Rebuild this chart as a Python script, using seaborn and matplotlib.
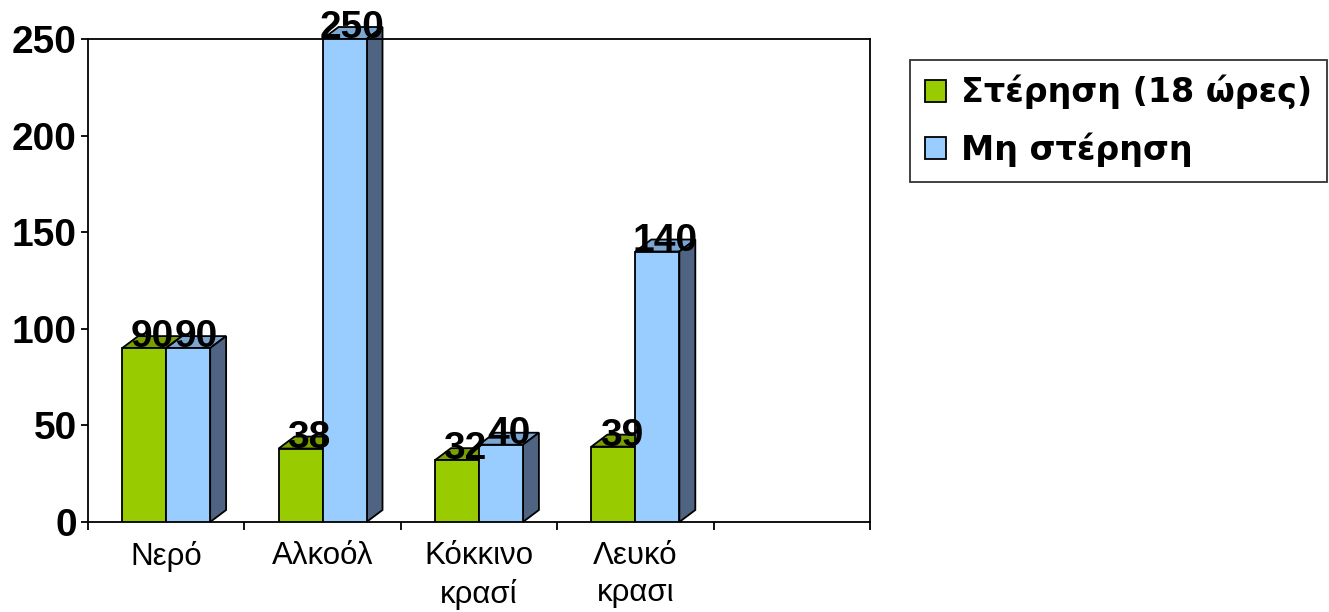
import matplotlib
matplotlib.use("Agg")
import matplotlib.pyplot as plt
from matplotlib.patches import Polygon, Patch
from matplotlib.ticker import FixedLocator
import seaborn as sns
import pandas as pd

# Sleep-deprivation drinking study: amount consumed per drink type
categories = ["Νερό", "Αλκοόλ", "Κόκκινο\nκρασί", "Λευκό\nκρασι"]
series_names = ["Στέρηση (18 ώρες)", "Μη στέρηση"]
deprived = [90, 38, 32, 39]
not_deprived = [90, 250, 40, 140]
y_ticks = [0, 50, 100, 150, 200, 250]

front_colors = ["#99CC00", "#99CCFF"]
top_colors = ["#7A9F00", "#7BA6D2"]
side_color = "#4F6482"

df = pd.DataFrame({
    "category": categories * 2,
    "value": deprived + not_deprived,
    "series": [series_names[0]] * len(categories) + [series_names[1]] * len(categories),
})

sns.set_style("white")
plt.rcParams["font.family"] = ["Liberation Sans", "DejaVu Sans"]
plt.rcParams["text.color"] = "black"
plt.rcParams["xtick.color"] = "black"
plt.rcParams["ytick.color"] = "black"

fig = plt.figure(figsize=(13.29, 6.12), dpi=100)
ax = fig.add_axes([0.0662, 0.1471, 0.5884, 0.7892])

sns.barplot(data=df, x="category", y="value", hue="series", order=categories,
            hue_order=series_names, palette=front_colors, width=0.5625,
            edgecolor="black", linewidth=1.3, saturation=1, ax=ax, zorder=3)

ax.set_xlim(-0.5, 4.5)
ax.set_ylim(0, 250)

# pseudo-3D depth offsets (data units)
dx, dy = 0.102, 6.2

for si, cont in enumerate(ax.containers):
    for bar in cont:
        x0 = bar.get_x()
        w = bar.get_width()
        h = bar.get_height()
        x1 = x0 + w
        top = Polygon([(x0, h), (x1, h), (x1 + dx, h + dy), (x0 + dx, h + dy)],
                      closed=True, facecolor=top_colors[si], edgecolor="black",
                      linewidth=1.3, zorder=2, clip_on=False)
        side = Polygon([(x1, 0), (x1 + dx, dy), (x1 + dx, h + dy), (x1, h)],
                       closed=True, facecolor=side_color, edgecolor="black",
                       linewidth=1.3, zorder=2, clip_on=False)
        ax.add_patch(top)
        ax.add_patch(side)
        ax.text(x0 + w / 2 + dx / 2, h + dy * 0.9, f"{h:.0f}", ha="center", va="center",
                fontsize=28, fontweight="bold", color="black", zorder=6,
                clip_on=False)

# axes frame and ticks
for sp in ax.spines.values():
    sp.set_visible(True)
    sp.set_color("black")
    sp.set_linewidth(1.3)

ax.set_yticks(y_ticks)
ax.set_yticklabels([str(t) for t in y_ticks], fontsize=28, fontweight="bold",
                   color="black")
ax.tick_params(axis="y", direction="out", length=5, width=1.3, color="black",
               pad=3, left=True)

ax.set_xticks(range(len(categories)))
ax.set_xticklabels(categories, fontsize=22.5, linespacing=1.3, color="black")
ax.xaxis.set_minor_locator(FixedLocator([i - 0.5 for i in range(6)]))
ax.tick_params(axis="x", which="major", length=0, pad=14)
ax.tick_params(axis="x", which="minor", direction="out", length=6, width=1.3,
               color="black", bottom=True)

ax.set_xlabel("")
ax.set_ylabel("")
ax.grid(False)

if ax.get_legend() is not None:
    ax.get_legend().remove()

handles = [Patch(facecolor=c, edgecolor="black", linewidth=1.3) for c in front_colors]
leg = fig.legend(handles, series_names, loc="upper left",
                 bbox_to_anchor=(0.6847, 0.902), frameon=True, fancybox=False,
                 edgecolor="black", handlelength=0.62, handleheight=0.62,
                 handletextpad=0.45, borderpad=0.45, labelspacing=0.68,
                 borderaxespad=0.0,
                 prop={"family": "DejaVu Sans", "weight": "bold", "size": 24})
leg.get_frame().set_linewidth(1.3)
for t in leg.get_texts():
    t.set_color("black")

fig.savefig("out.png", dpi=100, facecolor="white")
